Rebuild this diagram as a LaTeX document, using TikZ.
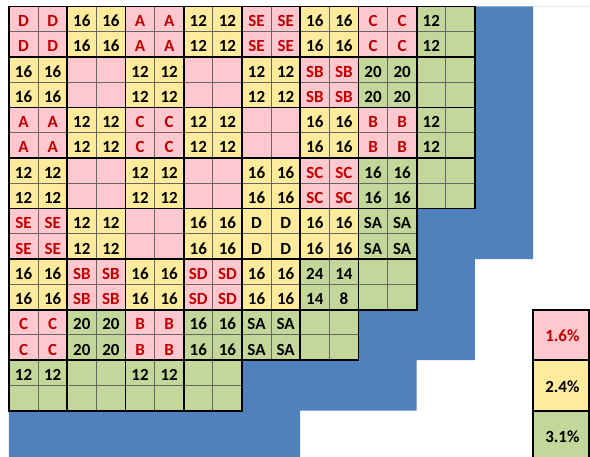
\documentclass[tikz,border=0pt]{standalone}
\usepackage{fontspec}
\setmainfont{Carlito}
\definecolor{pk}{HTML}{FFC7CE}
\definecolor{yl}{HTML}{FFEB9C}
\definecolor{gn}{HTML}{C4D79B}
\definecolor{bl}{HTML}{4F81BD}
\definecolor{rd}{HTML}{C00000}
\definecolor{bk}{HTML}{000000}
\tikzset{
  lbl/.style={font=\fontsize{17}{20}\selectfont\bfseries, anchor=base, inner sep=0pt},
  thinln/.style={draw=black!60, line width=0.8pt},
  thickln/.style={draw=black, line width=1.8pt, line join=miter},
}
\newcommand\gblk[8]{%
  \fill[#3] ({2*#1},{2*#2}) rectangle ++(2,2);
  \draw[thinln] ({2*#1+1},{2*#2}) -- ++(0,2) ({2*#1},{2*#2+1}) -- ++(2,0);
  \node[lbl,text=#4] (t#1-#2-a) at ({2*#1+0.5},{2*#2+0.8}) {#5};
  \node[lbl,text=#4] (t#1-#2-b) at ({2*#1+1.5},{2*#2+0.8}) {#6};
  \node[lbl,text=#4] (t#1-#2-c) at ({2*#1+0.5},{2*#2+1.8}) {#7};
  \node[lbl,text=#4] (t#1-#2-d) at ({2*#1+1.5},{2*#2+1.8}) {#8};
}
\newcommand\gublk[5]{\gblk{#1}{#2}{#3}{#4}{#5}{#5}{#5}{#5}}
\begin{document}
\begin{tikzpicture}[x=29.125pt,y=-25.26pt]
\useasboundingbox (-0.309,-0.257) rectangle (19.949,17.834);
\clip (-0.309,-0.257) rectangle (19.949,17.834);
% blue background
\fill[bl] (0,0) -- (18,0) -- (18,10) -- (16,10) -- (16,14) -- (14,14) -- (14,16) -- (10,16) -- (10,18.5) -- (0,18.5) -- cycle;
\draw[black!8, line width=0.5pt] (18,0) -- (20,0);
% row 0
\gublk{0}{0}{pk}{rd}{D}
\gublk{1}{0}{yl}{bk}{16}
\gublk{2}{0}{pk}{rd}{A}
\gublk{3}{0}{yl}{bk}{12}
\gublk{4}{0}{pk}{rd}{SE}
\gublk{5}{0}{yl}{bk}{16}
\gublk{6}{0}{pk}{rd}{C}
\gblk{7}{0}{gn}{bk}{12}{}{12}{}
% row 1
\gublk{0}{1}{yl}{bk}{16}
\gublk{1}{1}{pk}{rd}{}
\gublk{2}{1}{yl}{bk}{12}
\gublk{3}{1}{pk}{rd}{}
\gublk{4}{1}{yl}{bk}{12}
\gublk{5}{1}{pk}{rd}{SB}
\gublk{6}{1}{gn}{bk}{20}
\gublk{7}{1}{gn}{bk}{}
% row 2
\gublk{0}{2}{pk}{rd}{A}
\gublk{1}{2}{yl}{bk}{12}
\gublk{2}{2}{pk}{rd}{C}
\gublk{3}{2}{yl}{bk}{12}
\gublk{4}{2}{pk}{rd}{}
\gublk{5}{2}{yl}{bk}{16}
\gublk{6}{2}{pk}{rd}{B}
\gblk{7}{2}{gn}{bk}{12}{}{12}{}
% row 3
\gublk{0}{3}{yl}{bk}{12}
\gublk{1}{3}{pk}{rd}{}
\gublk{2}{3}{yl}{bk}{12}
\gublk{3}{3}{pk}{rd}{}
\gublk{4}{3}{yl}{bk}{16}
\gublk{5}{3}{pk}{rd}{SC}
\gublk{6}{3}{gn}{bk}{16}
\gublk{7}{3}{gn}{bk}{}
% row 4
\gublk{0}{4}{pk}{rd}{SE}
\gublk{1}{4}{yl}{bk}{12}
\gublk{2}{4}{pk}{rd}{}
\gublk{3}{4}{yl}{bk}{16}
\gublk{4}{4}{yl}{bk}{D}
\gublk{5}{4}{yl}{bk}{16}
\gublk{6}{4}{gn}{bk}{SA}
% row 5
\gublk{0}{5}{yl}{bk}{16}
\gublk{1}{5}{pk}{rd}{SB}
\gublk{2}{5}{yl}{bk}{16}
\gublk{3}{5}{pk}{rd}{SD}
\gublk{4}{5}{yl}{bk}{16}
\gblk{5}{5}{gn}{bk}{24}{14}{14}{8}
\gublk{6}{5}{gn}{bk}{}
% row 6
\gublk{0}{6}{pk}{rd}{C}
\gublk{1}{6}{gn}{bk}{20}
\gublk{2}{6}{pk}{rd}{B}
\gublk{3}{6}{gn}{bk}{16}
\gublk{4}{6}{gn}{bk}{SA}
\gublk{5}{6}{gn}{bk}{}
% row 7
\gblk{0}{7}{gn}{bk}{12}{12}{}{}
\gublk{1}{7}{gn}{bk}{}
\gblk{2}{7}{gn}{bk}{12}{12}{}{}
\gublk{3}{7}{gn}{bk}{}
% thick block borders
\foreach \r/\n in {0/8,1/8,2/8,3/8,4/7,5/7,6/6,7/4} {
  \foreach \c in {1,...,\n} {
    \draw[thickln] ({2*\c-2},{2*\r}) rectangle ++(2,2);
  }
}
% legend
\fill[pk] (18,12) rectangle (19.91,14);
\fill[yl] (18,14) rectangle (19.91,16);
\fill[gn] (18,16) rectangle (19.91,18.5);
\draw[thickln] (18,12) rectangle (19.91,14);
\draw[thickln] (18,14) rectangle (19.91,16);
\draw[thickln] (18,16) rectangle (19.91,18.5);
\node[lbl,text=rd] (l1) at (19.0,13.27) {1.6\%};
\node[lbl,text=bk] (l2) at (19.0,15.27) {2.4\%};
\node[lbl,text=bk] (l3) at (19.0,17.25) {3.1\%};
\end{tikzpicture}
\end{document}
